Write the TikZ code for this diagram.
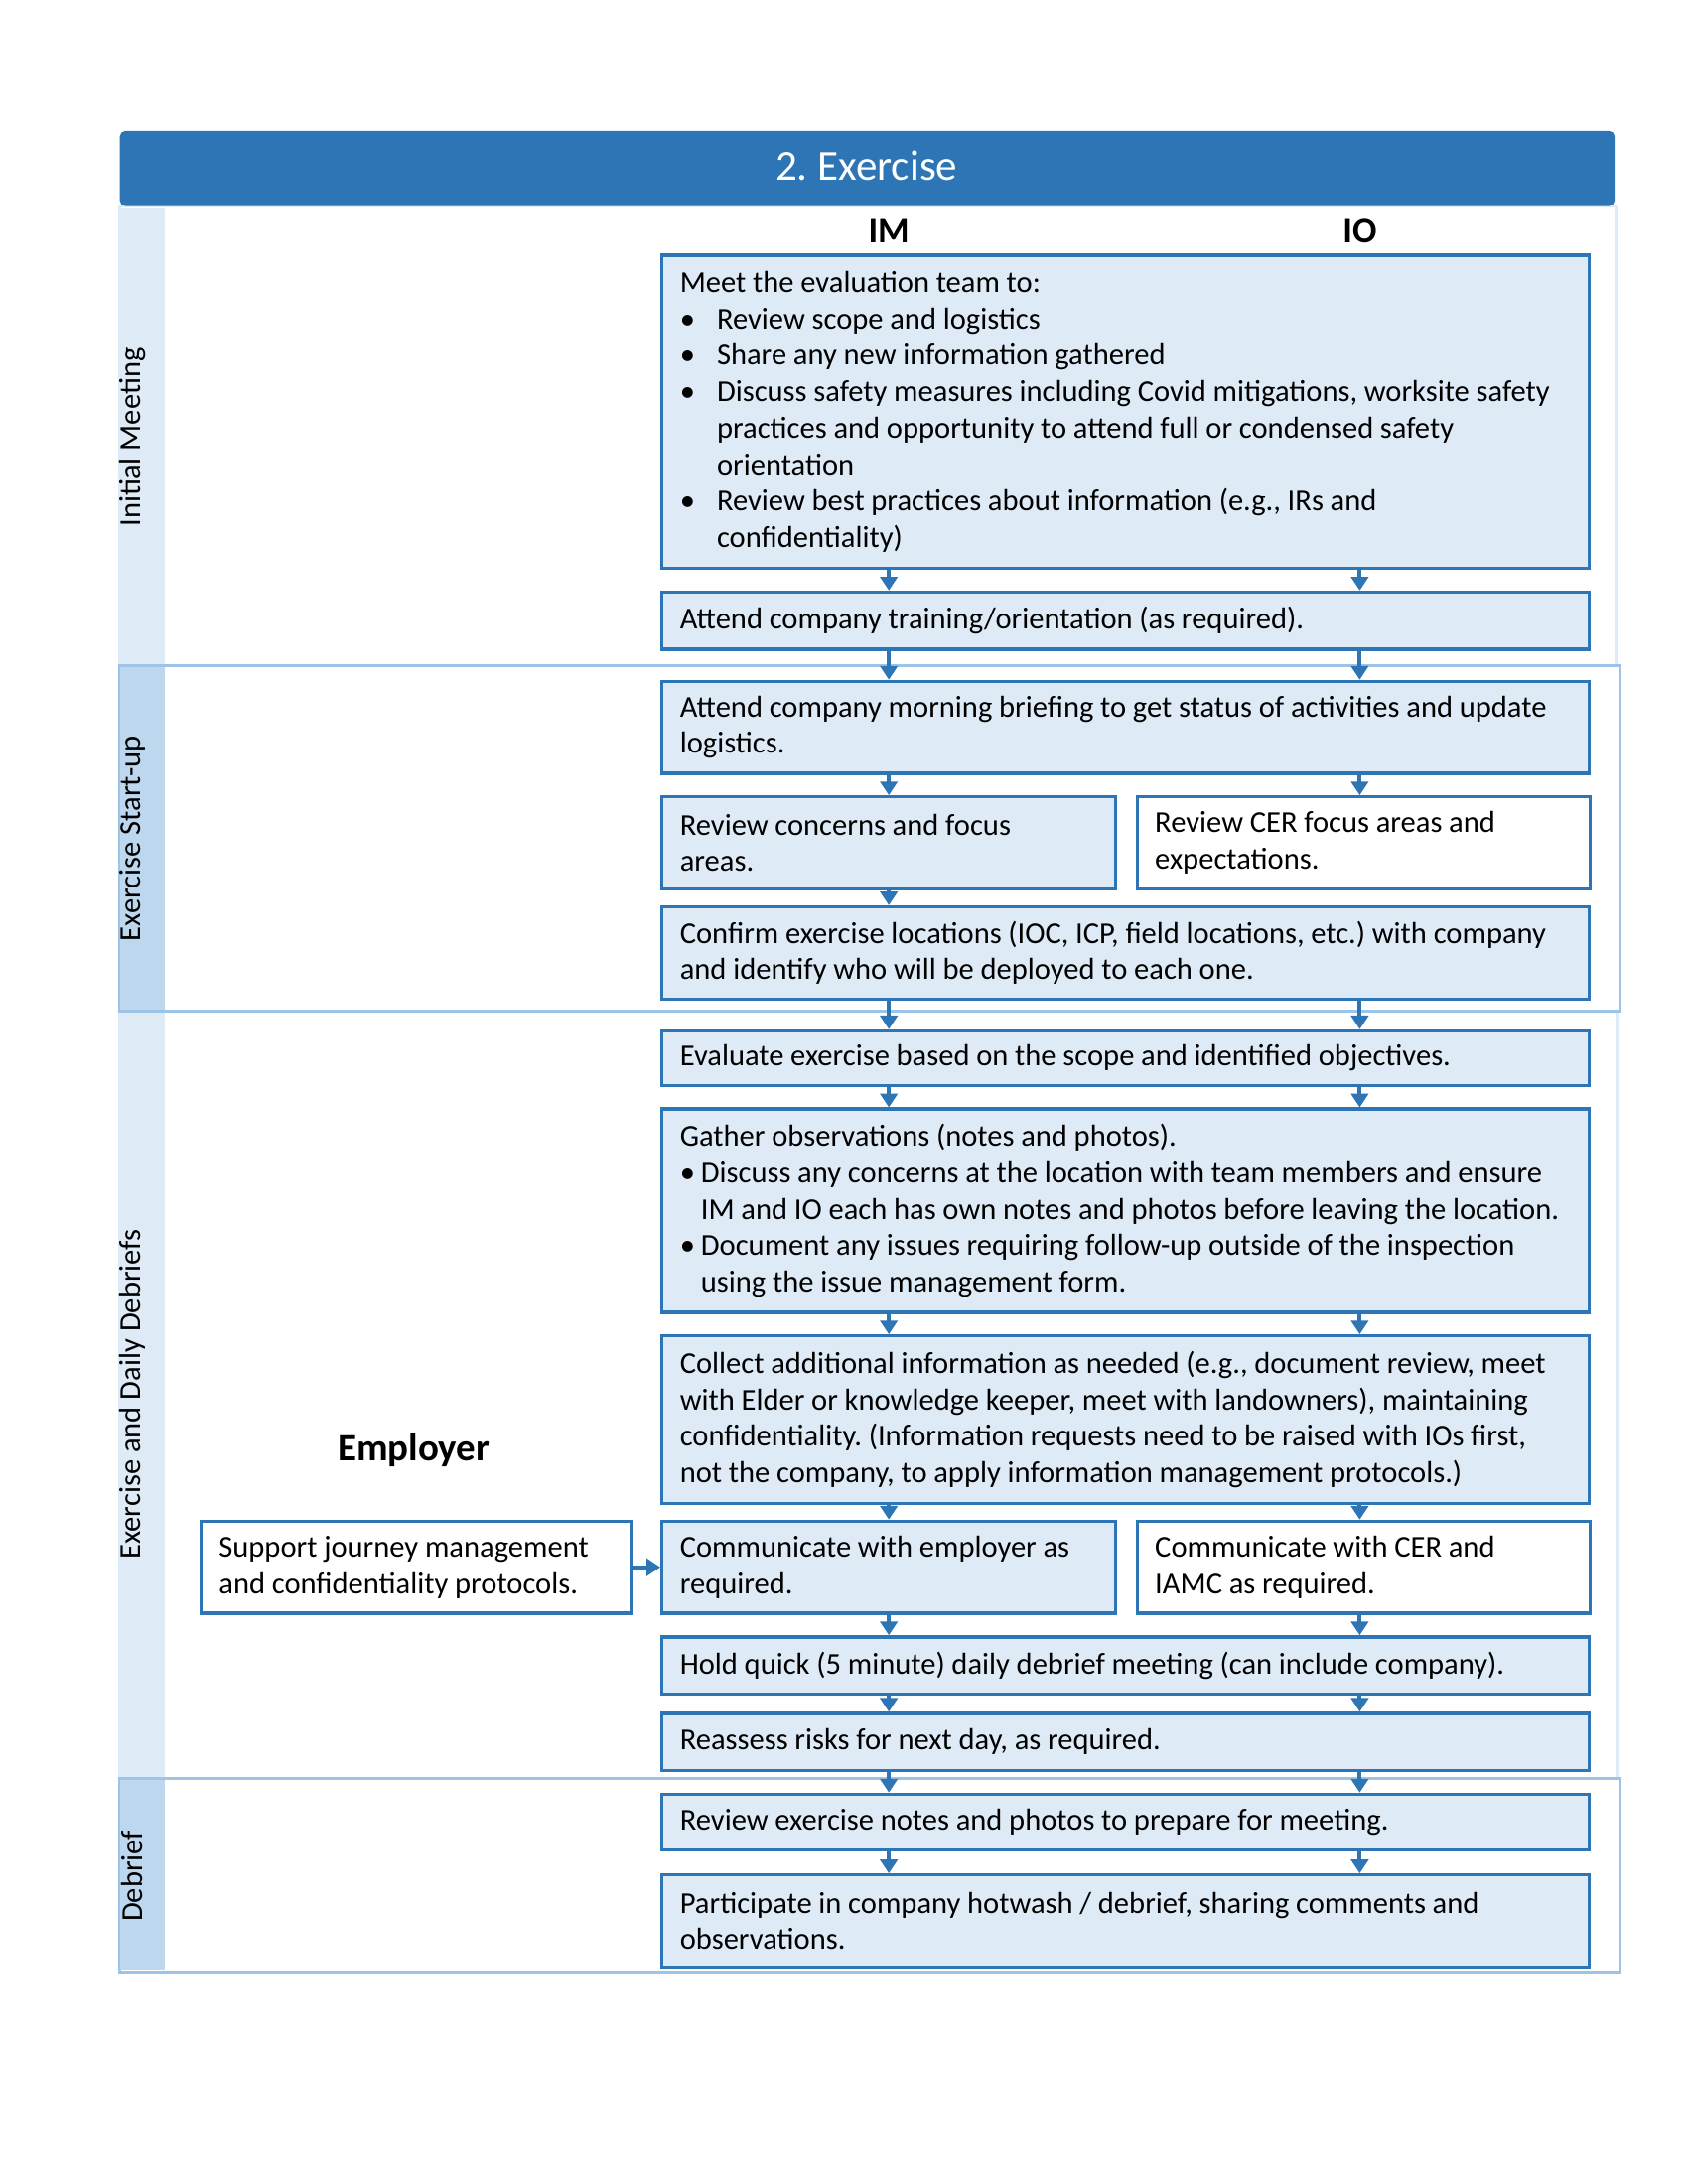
\documentclass[tikz,border=0pt]{standalone}
\usepackage{fontspec}
\setmainfont{Carlito}
\usetikzlibrary{arrows.meta}

\definecolor{barblue}{RGB}{46,117,182}
\definecolor{boxfill}{RGB}{222,235,247}
\definecolor{stripdark}{RGB}{189,215,238}
\definecolor{framemid}{RGB}{157,195,230}
\definecolor{framelight}{RGB}{222,235,247}

\hyphenpenalty=10000
\exhyphenpenalty=10000
\frenchspacing

% bullet line with hanging indent
\newcommand{\bpoint}[2]{\par\hangindent=#1\hangafter=1\noindent\makebox[#1][l]{\textbullet}#2\par}

\tikzset{
  box/.style={draw=barblue, line width=1.2pt, fill=boxfill, anchor=north west,
    inner xsep=6.5pt, inner ysep=2pt, font=\fontsize{11}{13.2}\selectfont,
    execute at begin node={\raggedright\spaceskip=0.22em plus 0.1em\xspaceskip=0.22em plus 0.1em}},
  plainbox/.style={box, fill=white},
  wide/.style={text width=323pt},
  half/.style={text width=151.3pt},
  head/.style={font=\fontsize{13}{15}\bfseries},
  lanelabel/.style={rotate=90, font=\fontsize{11}{13}\selectfont},
  flow/.style={draw=barblue, line width=1.4pt, -{Triangle[width=6.2pt,length=5pt]}}
}

\begin{document}
\begin{tikzpicture}[x=0.50495pt, y=-0.50495pt]
        \useasboundingbox (0,0) rectangle (1212,1568);

        % lane frames
        \draw[framelight, line width=1.1pt] (86,148) rectangle (1160,478);
        \draw[framelight, line width=1.1pt] (86,726) rectangle (1161,1277);
        \draw[framemid, line width=1.1pt] (86,478) rectangle (1163,726);
        \draw[framemid, line width=1.1pt] (86,1277) rectangle (1163,1416);

        % lane strips
        \fill[framelight] (86,150) rectangle (118,477);
        \fill[stripdark] (86,479) rectangle (118,725);
        \fill[framelight] (86,727) rectangle (118,1276);
        \fill[stripdark] (86,1278) rectangle (118,1414);

        \node[lanelabel] (lanemeet) at (95,314) {Initial Meeting};
        \node[lanelabel] (lanestart) at (95,602) {Exercise Start-up};
        \node[lanelabel] (lanedaily) at (95,1001) {Exercise and Daily Debriefs};
        \node[lanelabel] (lanedebrief) at (95,1347) {Debrief};

        % title bar
        \fill[barblue, rounded corners=2pt] (86,94) rectangle (1159,148);
        \node[text=white, font=\fontsize{15.5}{18}\selectfont] (title) at (622,119) {2. Exercise};

        % column heads
        \node[head] (im) at (638,166) {IM};
        \node[head] (io) at (976,166) {IO};
        \node[font=\fontsize{14}{16}\bfseries] (employer) at (297,1041) {Employer};

        % initial meeting
        \node[box, wide, minimum height=113.6pt] (meet) at (474,182) {Meet the evaluation team to:
          \bpoint{13.4pt}{Review scope and logistics}
          \bpoint{13.4pt}{Share any new information gathered}
          \bpoint{13.4pt}{Discuss safety measures including Covid mitigations, worksite safety\newline practices and opportunity to attend full or condensed safety\newline orientation}
          \bpoint{13.4pt}{Review best practices about information (e.g., IRs and\newline confidentiality)}};
        \node[box, wide, minimum height=20.7pt] (train) at (474,424) {Attend company training/orientation (as required).};

        % exercise start-up
        \node[box, wide, minimum height=33.3pt] (brief) at (474,488) {Attend company morning briefing to get status of activities and update\\logistics.};
        \node[box, half, minimum height=33.3pt] (concerns) at (474,571) {Review concerns and focus\\areas.};
        \node[plainbox, half, minimum height=33.3pt] (cerfocus) at (815,571) {Review CER focus areas and\\expectations.};
        \node[box, wide, minimum height=33.3pt] (confirm) at (474,650) {Confirm exercise locations (IOC, ICP, field locations, etc.) with company\\and identify who will be deployed to each one.};

        % exercise and daily debriefs
        \node[box, wide, minimum height=19.7pt] (evaluate) at (474,739) {Evaluate exercise based on the scope and identified objectives.};
        \node[box, wide, minimum height=73.7pt] (gather) at (474,795) {Gather observations (notes and photos).
          \bpoint{7.6pt}{Discuss any concerns at the location with team members and ensure\newline IM and IO each has own notes and photos before leaving the location.}
          \bpoint{7.6pt}{Document any issues requiring follow-up outside of the inspection\newline using the issue management form.}};
        \node[box, wide, minimum height=60.6pt] (collect) at (474,958) {Collect additional information as needed (e.g., document review, meet\\with Elder or knowledge keeper, meet with landowners), maintaining\\confidentiality. (Information requests need to be raised with IOs first,\\not the company, to apply information management protocols.)};
        \node[plainbox, text width=143pt, minimum height=33.3pt] (support) at (143,1091) {Support journey management\\and confidentiality protocols.};
        \node[box, half, minimum height=33.3pt] (commemp) at (474,1091) {Communicate with employer as\\required.};
        \node[plainbox, half, minimum height=33.3pt] (commcer) at (815,1091) {Communicate with CER and\\IAMC as required.};
        \node[box, wide, minimum height=20.7pt] (hold) at (474,1174) {Hold quick (5 minute) daily debrief meeting (can include company).};
        \node[box, wide, minimum height=20.7pt] (reassess) at (474,1229) {Reassess risks for next day, as required.};

        % debrief
        \node[box, wide, minimum height=20.2pt] (notes) at (474,1287) {Review exercise notes and photos to prepare for meeting.};
        \node[box, wide, minimum height=33.3pt] (hotwash) at (474,1345) {Participate in company hotwash / debrief, sharing comments and\\observations.};

        % arrows in both columns
        \foreach \a/\b in {meet/train, train/brief, confirm/evaluate, evaluate/gather,
            gather/collect, hold/reassess, reassess/notes, notes/hotwash} {
          \draw[flow] (\a.south -| im) -- (\b.north -| im);
          \draw[flow] (\a.south -| io) -- (\b.north -| io);
        }
        % arrows in one column
        \foreach \a/\b in {brief/concerns, concerns/confirm, collect/commemp, commemp/hold}
          \draw[flow] (\a.south -| im) -- (\b.north -| im);
        \foreach \a/\b in {brief/cerfocus, collect/commcer, commcer/hold}
          \draw[flow] (\a.south -| io) -- (\b.north -| io);

        \draw[flow] (support.east) -- (commemp.west);
    \end{tikzpicture}
\end{document}
